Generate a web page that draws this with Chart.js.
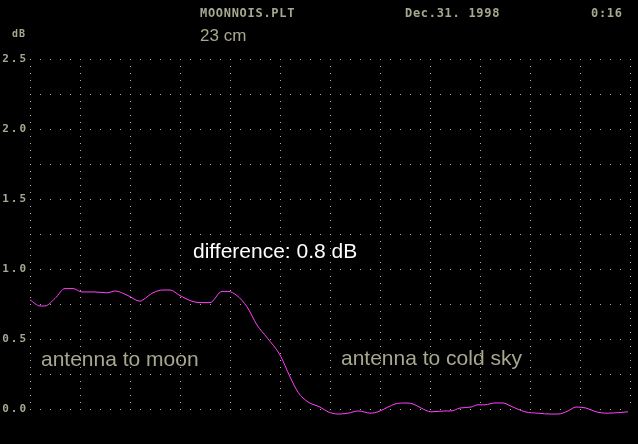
<!DOCTYPE html>
<html>
<head>
<meta charset="utf-8">
<title>MOONNOIS.PLT</title>
<script src="https://cdn.jsdelivr.net/npm/chart.js@4"></script>
<style>
    html, body { margin: 0; padding: 0; background: #000; }
    #wrap { width: 638px; height: 444px; }
</style>
</head>
<body>
<div id="wrap"><canvas id="noiseChart" width="638" height="444"></canvas></div>
<script>
// Posición horizontal (divisiones de 0 a 120) y nivel de ruido en dB
const samplePos = [0, 2, 3, 5, 7, 8.6, 10.4, 13, 15.4, 17, 19.6, 22, 22.6, 24.6, 26.6, 28, 30, 32.4, 34, 36,
    38.4, 39.6, 41.4, 43.4, 45.4, 47.4, 50, 52, 53.6, 55.6, 58, 59.6, 61.6, 63.6, 65.6, 68.2, 69.6, 71.6,
    73, 75.2, 76.6, 78.2, 80.2, 83, 84.2, 86, 88.2, 89.6, 91, 93, 94.6, 96.2, 99, 101.6, 104.2, 105.6,
    107.6, 109.2, 111.2, 113.2, 115.6, 119.6];
const noiseDb = [0.78, 0.736, 0.736, 0.79, 0.86, 0.86, 0.836, 0.836, 0.83, 0.843, 0.81, 0.77, 0.78, 0.83, 0.85, 0.85, 0.81, 0.77, 0.76, 0.76,
    0.84, 0.84, 0.81, 0.73, 0.6, 0.51, 0.386, 0.23, 0.12, 0.05, 0.014, -0.02, -0.036, -0.03, -0.014, -0.03, -0.02, 0.014,
    0.036, 0.043, 0.036, 0.007, -0.02, -0.014, -0.014, 0.007, 0.014, 0.03, 0.03, 0.043, 0.043, 0.02, -0.02, -0.03, -0.036, -0.036,
    -0.014, 0.014, 0.007, -0.02, -0.03, -0.02];
const yTicks = ['0.0', '0.5', '1.0', '1.5', '2.0', '2.5'];

const headerTexts = ['MOONNOIS.PLT', 'Dec.31. 1998', '0:16'];
const unitLabel = 'dB';
const bandLabel = '23 cm';
const diffLabel = 'difference: 0.8 dB';
const moonLabel = 'antenna to moon';
const skyLabel = 'antenna to cold sky';

// Colores
const colors = {
    text:  '#a8a890',
    grid:  '#b0b090',
    curve: '#ff40ff',
    white: '#ffffff',
};

const pixelFont = '"DejaVu Sans Mono", monospace';
const sansFont = '"Liberation Sans", Arial, sans-serif';

// ── Textos sobre el lienzo ──
const annotations = {
    id: 'annotations',
    beforeDraw(chart) {
        chart.ctx.letterSpacing = '2px';
    },
    afterDraw(chart) {
        const { ctx } = chart;
        ctx.save();
        ctx.textBaseline = 'alphabetic';
        ctx.textAlign = 'left';

        ctx.letterSpacing = '0.7px';
        ctx.font = 'bold 12px ' + pixelFont;
        ctx.fillStyle = colors.text;
        ctx.fillText(headerTexts[0], 200, 17);
        ctx.fillText(headerTexts[1], 405, 17);
        ctx.fillText(headerTexts[2], 591, 17);

        ctx.letterSpacing = '1px';
        ctx.font = 'bold 10px ' + pixelFont;
        ctx.fillText(unitLabel, 12, 37);

        ctx.letterSpacing = '0px';
        ctx.font = '17px ' + sansFont;
        ctx.fillText(bandLabel, 200, 41);

        ctx.font = '21px ' + sansFont;
        ctx.fillStyle = colors.white;
        ctx.fillText(diffLabel, 193, 258);

        ctx.fillStyle = colors.text;
        ctx.fillText(moonLabel, 41, 366);
        ctx.fillText(skyLabel, 341, 365);
        ctx.restore();
    }
};

new Chart(document.getElementById('noiseChart'), {
    type: 'line',
    data: {
        datasets: [{
            data: samplePos.map((p, i) => ({ x: p, y: noiseDb[i] })),
            borderColor: colors.curve,
            borderWidth: 1,
            pointRadius: 0,
            cubicInterpolationMode: 'monotone',
            clip: false,
        }]
    },
    options: {
        responsive: false,
        animation: false,
        events: [],
        layout: { padding: { top: 59, right: 8, bottom: 35, left: 0 } },
        plugins: {
            legend: { display: false },
            tooltip: { enabled: false },
        },
        scales: {
            x: {
                type: 'linear',
                min: 0,
                max: 120,
                ticks: { display: false, stepSize: 10 },
                grid: { color: colors.grid, lineWidth: 1, drawTicks: false },
                border: { display: false, dash: [1, 6] },
                afterFit: s => { s.height = 0; },
            },
            y: {
                min: 0,
                max: 2.5,
                ticks: {
                    stepSize: 0.25,
                    padding: 2,
                    color: colors.text,
                    font: { family: pixelFont, size: 11, weight: 'bold' },
                    callback: v => yTicks.includes(v.toFixed(1)) && (v * 2) % 1 === 0 ? v.toFixed(1) : '',
                },
                grid: { color: colors.grid, lineWidth: 1, drawTicks: false },
                border: { display: false, dash: [1, 9] },
                afterFit: s => { s.width = 30; },
            }
        }
    },
    plugins: [annotations]
});
</script>
</body>
</html>
